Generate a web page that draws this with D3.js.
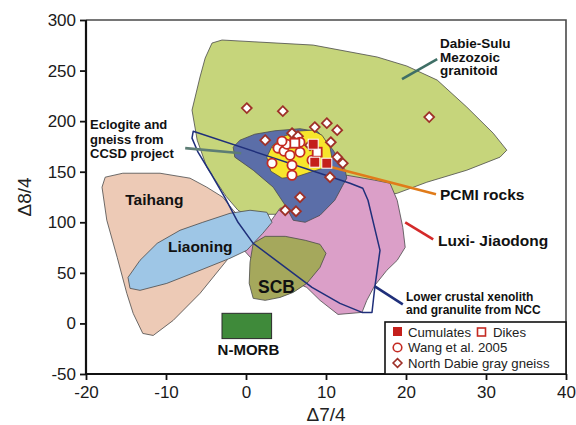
<!DOCTYPE html>
<html>
<head>
<meta charset="utf-8">
<script src="https://cdn.jsdelivr.net/npm/d3@7"></script>
<style>
  html, body { margin: 0; padding: 0; background: #fff; }
  svg { display: block; }
  text { font-family: "Liberation Sans", Arial, Helvetica, sans-serif; }
</style>
</head>
<body>
<svg id="chart" width="576" height="425"></svg>
<script>
// ---- axis ticks ----
const xTicks = [-20, -10, 0, 10, 20, 30, 40];
const yTicks = [-50, 0, 50, 100, 150, 200, 250, 300];

// ---- field outlines (Δ7/4, Δ8/4) ----
const dabieSulu = [[-4.25,277.2],[-3.0,280.2],[8.4,275.2],[16.4,263.4],[20.1,254.5],[23.9,240.6],[27.6,213.9],[30.9,188.1],[32.6,171.3],[31.75,164.4],[27.6,151.5],[22.6,139.6],[18.9,128.7],[16.75,125.7],[11.75,116.8],[5.5,107.9],[2.4,107.9],[0.25,105.9],[-1.0,111.9],[-2.5,125.7],[-4.9,154.5],[-6.1,181.2],[-6.75,210.9],[-5.75,243.6],[-5.1,262.4]];
const taihang = [[-18,134.7],[-17.6,144.6],[-15.4,148.5],[-10.75,148.5],[-7.0,143.6],[-4.9,134.7],[-2.9,124.8],[-1.6,111.9],[-1.0,106.9],[-1.25,87.1],[-2.4,62.4],[-5.75,29.7],[-9.1,3.0],[-11.6,-11.9],[-12.9,-9.9],[-14.1,9.9],[-14.9,29.7],[-16.1,65.3],[-17.4,102]];
const luxiJiaodong = [[-0.25,72.3],[1.1,84.2],[3.0,100],[4.25,113.9],[6.75,116.8],[9.25,126.7],[11.1,136.6],[12.6,146.5],[16.1,141.6],[18.0,138.6],[18.9,121.8],[19.6,95],[19.9,75.2],[18.9,62.4],[17.6,52.5],[16.1,37.6],[15.1,22.8],[14.5,10.9],[11.5,8.9],[9.25,22.8],[7.6,35.6],[4.25,47.5],[1.1,60.4]];
const liaoning = [[-14.75,45.5],[-14.5,34.7],[-13.25,32.7],[-9.9,39.6],[-5.75,52.5],[-2.0,64.4],[0.1,72.3],[2.1,89.1],[3.25,100],[2.6,109.9],[0.5,111.9],[-2.0,108.9],[-5.4,100],[-8.25,92.1],[-11.1,79.2],[-13.25,62.4]];
const scb = [[0.9,79.2],[2.4,86.1],[4.9,86.1],[7.4,82.2],[9.25,78.2],[10.0,69.3],[9.25,55.4],[7.6,39.6],[5.9,30.7],[4.25,25.7],[2.4,22.8],[0.9,24.8],[0.4,39.6],[0.5,60.4]];
const ccsd = [[-1.6,174.3],[-0.75,181.2],[1.1,187.1],[3.6,190.5],[6.75,192.5],[9.0,189.5],[10.9,171.3],[12.4,151.5],[12.6,143.6],[12.1,136.6],[11.1,121.8],[9.25,106.9],[7.4,100],[5.9,102],[4.9,116.8],[3.4,134.7],[0.9,151.5],[-1.4,164.4]];
const pcmi = [[2.6,164.4],[3.25,175.2],[4.5,184.2],[6.4,190.1],[8.25,191.1],[9.5,186.1],[10.5,174.3],[10.75,163.4],[10.1,154.5],[8.4,150.5],[6.5,145.5],[4.5,143.6],[3.1,150.5]];
const nccOutline = [[-6.6,190],[13.0,138.6],[14.6,133.7],[15.25,121.8],[16.0,97],[16.75,72.3],[16.1,35.6],[15.75,10.9],[14.5,10.9],[11.75,19.8],[8.25,35.6],[4.25,59.4],[0.9,79.2],[-1.0,100],[-2.6,123.8],[-4.25,146.5],[-6.0,169.3],[-6.75,183.2]];
const nMorb = { x0: -3, x1: 3.2, y0: -15, y1: 10 };

// ---- samples ----
const grayGneiss = [[0.1,212.9],[4.6,209.9],[22.9,204],[8.6,194.1],[10.1,198],[11.4,191.1],[10.6,179.2],[2.4,181.2],[5.75,188.1],[6.5,185.1],[4.0,174.3],[8.0,176.2],[11.4,164.4],[12.1,158.4],[10.5,144.6],[6.75,124.8],[4.9,111.9],[6.25,110.9]];
const wang2005 = [[3.25,158.4],[4.0,173.3],[4.75,170.3],[5.5,166.3],[6.75,169.3],[5.75,156.4],[5.75,146.5],[8.25,161.4],[5.1,177.2],[6.75,179.2],[4.5,180.2]];
const cumulates = [[8.4,177.2],[8.6,159.4],[10.1,158.4]];
const dikes = [[6.1,178.2],[8.9,169.3]];

// ---- annotations ----
const leaders = [
  { pts: [[23.9,261.4],[19.5,241.6]], color: "#3f6f66" },
  { pts: [[-7.6,173.3],[-0.6,168.3]], color: "#5d7d75" },
  { pts: [[10.25,155.4],[23.75,127.7]], color: "#e07b1a" },
  { pts: [[19.9,100],[23.4,83.2]], color: "#d42a2a" },
  { pts: [[16.1,36.6],[19.6,18.8]], color: "#1f2f7a" }
];
const labels = [
  { lines: ["Dabie-Sulu", "Mezozoic", "granitoid"], x: 24.25, y: 272.3, size: 13.5, lh: 13.5 },
  { lines: ["Eclogite and", "gneiss from", "CCSD project"], x: -19.5, y: 192, size: 13, lh: 14.6 },
  { lines: ["PCMI rocks"], x: 24.25, y: 121.8, size: 15.5 },
  { lines: ["Luxi- Jiaodong"], x: 24, y: 76.2, size: 15.5 },
  { lines: ["Lower crustal xenolith", "and granulite from NCC"], x: 20, y: 21.8, size: 12, lh: 12.8 },
  { lines: ["Taihang"], x: -15.1, y: 116.8, size: 15.5 },
  { lines: ["Liaoning"], x: -9.75, y: 70.3, size: 15.5 },
  { lines: ["SCB"], x: 1.5, y: 29.7, size: 17.5 },
  { lines: ["N-MORB"], x: 0.3, y: -31.7, size: 15, anchor: "middle" }
];

const svg = d3.select("#chart");
const m = { left: 86, right: 566, top: 20, bottom: 374 };
const x = d3.scaleLinear().domain([-20, 40]).range([m.left, m.right]);
const y = d3.scaleLinear().domain([-50, 300]).range([m.bottom, m.top]);
const line = d3.line().x(d => x(d[0])).y(d => y(d[1]));
const area = pts => line(pts) + "Z";

const fields = svg.append("g");
function field(pts, fill) {
  fields.append("path").attr("d", area(pts))
    .attr("fill", fill).attr("stroke", "#4a4a4a").attr("stroke-width", 0.8)
    .attr("stroke-linejoin", "round");
}
field(dabieSulu, "#c6d57b");
field(taihang, "#edcab6");
field(luxiJiaodong, "#db9fc8");
field(liaoning, "#9ec6e6");
field(scb, "#a5a85c");
field(ccsd, "#5b6ea8");
field(pcmi, "#f7e62c");

fields.append("rect")
  .attr("x", x(nMorb.x0)).attr("y", y(nMorb.y1))
  .attr("width", x(nMorb.x1) - x(nMorb.x0)).attr("height", y(nMorb.y0) - y(nMorb.y1))
  .attr("fill", "#3f8a3a").attr("stroke", "#2b2b2b").attr("stroke-width", 1);

svg.append("path").attr("d", area(nccOutline))
  .attr("fill", "none").attr("stroke", "#1f2f7a").attr("stroke-width", 1.5)
  .attr("stroke-linejoin", "round");

svg.append("g").selectAll("path").data(leaders).join("path")
  .attr("d", d => line(d.pts)).attr("stroke", d => d.color)
  .attr("stroke-width", 2.6).attr("fill", "none");

// sample symbols
const red = "#c42a22", darkRed = "#9e3028";
const sym = svg.append("g");
sym.selectAll(".dia").data(grayGneiss).join("path")
  .attr("d", d3.symbol(d3.symbolDiamond2, 62))
  .attr("transform", d => `translate(${x(d[0])},${y(d[1])})`)
  .attr("fill", "#fff").attr("stroke", darkRed).attr("stroke-width", 1.8);
sym.selectAll(".cir").data(wang2005).join("circle")
  .attr("cx", d => x(d[0])).attr("cy", d => y(d[1])).attr("r", 4.6)
  .attr("fill", "#fff").attr("stroke", red).attr("stroke-width", 1.8);
sym.selectAll(".dik").data(dikes).join("rect")
  .attr("x", d => x(d[0]) - 4.5).attr("y", d => y(d[1]) - 4.5)
  .attr("width", 9).attr("height", 9)
  .attr("fill", "#fff").attr("stroke", red).attr("stroke-width", 1.8);
sym.selectAll(".cum").data(cumulates).join("rect")
  .attr("x", d => x(d[0]) - 5).attr("y", d => y(d[1]) - 5)
  .attr("width", 10).attr("height", 10)
  .attr("fill", "#c41f1b").attr("stroke", "#fff").attr("stroke-width", 1);

// text labels
const lab = svg.append("g").attr("font-weight", "bold").attr("fill", "#111");
labels.forEach(l => {
  const t = lab.append("text")
    .attr("x", x(l.x)).attr("y", y(l.y))
    .attr("font-size", l.size).attr("text-anchor", l.anchor || "start");
  l.lines.forEach((s, i) => {
    t.append("tspan").attr("x", x(l.x)).attr("dy", i === 0 ? 0 : l.lh).text(s);
  });
});

// frame and axes
svg.append("path")
  .attr("d", `M${m.left},${m.top}H${m.right}V${m.bottom}`)
  .attr("fill", "none").attr("stroke", "#4a4a4a").attr("stroke-width", 1.6);

const plain = d => String(d);
const ax = svg.append("g").attr("transform", `translate(0,${m.bottom})`)
  .call(d3.axisBottom(x).tickValues(xTicks).tickSize(6).tickPadding(6).tickFormat(plain));
const ay = svg.append("g").attr("transform", `translate(${m.left},0)`)
  .call(d3.axisLeft(y).tickValues(yTicks).tickSize(6).tickPadding(4).tickFormat(plain));
[ax, ay].forEach(g => {
  g.select(".domain").attr("stroke", "#111").attr("stroke-width", 2.2);
  g.selectAll(".tick line").attr("stroke", "#111").attr("stroke-width", 1.8);
  g.selectAll(".tick text").attr("font-size", 17).attr("fill", "#1a1a1a")
    .attr("font-family", "'Liberation Sans', Arial, sans-serif");
});
ax.select(".domain").attr("d", `M${m.left},0H${m.right}`);
ay.select(".domain").attr("d", `M0,${m.bottom}V${m.top}`);

svg.append("text").attr("x", (m.left + m.right) / 2).attr("y", 421)
  .attr("text-anchor", "middle").attr("font-size", 19)
  .attr("font-family", "'Liberation Serif', 'Times New Roman', serif")
  .attr("fill", "#222").text("Δ7/4");
svg.append("text").attr("transform", `translate(31,${(m.top + m.bottom) / 2}) rotate(-90)`)
  .attr("text-anchor", "middle").attr("font-size", 19)
  .attr("font-family", "'Liberation Serif', 'Times New Roman', serif")
  .attr("fill", "#222").text("Δ8/4");

// legend
const lg = svg.append("g").attr("transform", "translate(385,322)");
lg.append("rect").attr("width", 181).attr("height", 52)
  .attr("fill", "#fff").attr("stroke", "#111").attr("stroke-width", 1.6);
lg.append("rect").attr("x", 8).attr("y", 5).attr("width", 9).attr("height", 9).attr("fill", "#c41f1b");
lg.append("text").attr("x", 23).attr("y", 14.5).attr("font-size", 13.2).attr("fill", "#222").text("Cumulates");
lg.append("rect").attr("x", 92.5).attr("y", 6).attr("width", 8).attr("height", 8)
  .attr("fill", "#fff").attr("stroke", red).attr("stroke-width", 1.6);
lg.append("text").attr("x", 108).attr("y", 14.5).attr("font-size", 13.2).attr("fill", "#222").text("Dikes");
lg.append("circle").attr("cx", 12.5).attr("cy", 25.5).attr("r", 4.3)
  .attr("fill", "#fff").attr("stroke", red).attr("stroke-width", 1.6);
lg.append("text").attr("x", 23).attr("y", 30).attr("font-size", 13.2).attr("fill", "#222").text("Wang et al. 2005");
lg.append("path").attr("d", d3.symbol(d3.symbolDiamond2, 50)).attr("transform", "translate(12.5,41)")
  .attr("fill", "#fff").attr("stroke", darkRed).attr("stroke-width", 1.6);
lg.append("text").attr("x", 23).attr("y", 45.5).attr("font-size", 13.2).attr("fill", "#222").text("North Dabie gray gneiss");
</script>
</body>
</html>
